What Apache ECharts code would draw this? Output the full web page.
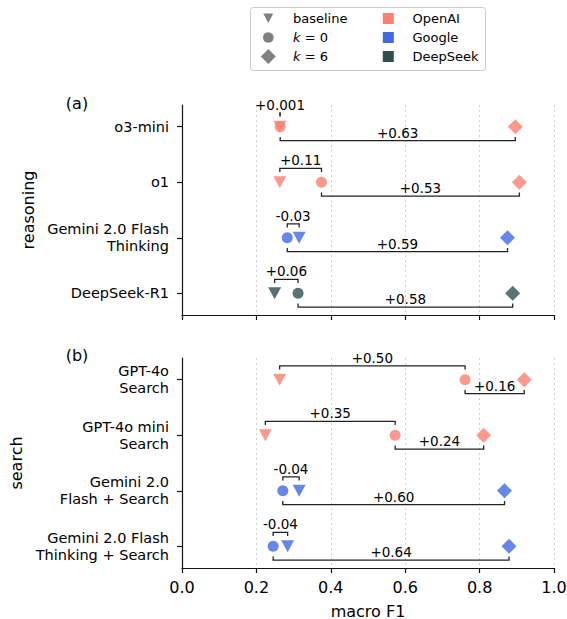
<!DOCTYPE html>
<html><head><meta charset="utf-8">
<script src="https://cdn.jsdelivr.net/npm/echarts@6/dist/echarts.min.js"></script>
<style>html,body{margin:0;padding:0;background:#fff}#chart{width:567px;height:619px}</style>
</head><body><div id="chart"></div>
<script>
// ---- data ----
const reasoningModels = ['o3-mini', 'o1', 'Gemini 2.0 Flash\nThinking', 'DeepSeek-R1'];
const reasoningCompany = ['OpenAI', 'OpenAI', 'Google', 'DeepSeek'];
const reasoningBaseline = [0.263, 0.263, 0.315, 0.249];
const reasoningK0 = [0.264, 0.375, 0.283, 0.312];
const reasoningK6 = [0.896, 0.907, 0.875, 0.889];
const reasoningGainK0 = ['+0.001', '+0.11', '-0.03', '+0.06'];
const reasoningGainK6 = ['+0.63', '+0.53', '+0.59', '+0.58'];

const searchModels = ['GPT-4o\nSearch', 'GPT-4o mini\nSearch', 'Gemini 2.0\nFlash + Search', 'Gemini 2.0 Flash\nThinking + Search'];
const searchCompany = ['OpenAI', 'OpenAI', 'Google', 'Google'];
const searchBaseline = [0.2625, 0.224, 0.315, 0.284];
const searchK0 = [0.761, 0.573, 0.271, 0.245];
const searchK6 = [0.920, 0.811, 0.867, 0.879];
const searchGainK0 = ['+0.50', '+0.35', '-0.04', '-0.04'];
const searchGainK6 = ['+0.16', '+0.24', '+0.60', '+0.64'];

const xTicks = [0.0, 0.2, 0.4, 0.6, 0.8, 1.0];
const legendMarkers = ['baseline', 'k = 0', 'k = 6'];
const legendCompanies = ['OpenAI', 'Google', 'DeepSeek'];

// ---- styles ----
const FONT = 'DejaVu Sans';
const companyColors = { OpenAI: '#FA8072', Google: '#4169E1', DeepSeek: '#2F4F4F' };
const AX = '#111';

const chart = echarts.init(document.getElementById('chart'), null, { renderer: 'svg' });

function xAxisCfg(gridIndex, showLabels) {
  return {
    type: 'value', gridIndex, min: 0, max: 1, interval: 0.2,
    axisLine: { show: true, onZero: false, lineStyle: { color: AX, width: 1.2 } },
    axisTick: { show: true, length: 5, lineStyle: { color: AX, width: 1.2 } },
    axisLabel: { show: showLabels, margin: 11, fontFamily: FONT, fontSize: 16, color: '#000',
      formatter: v => v.toFixed(1) },
    splitLine: { show: true, lineStyle: { color: '#cfcfcf', type: [2, 3], width: 1 } },
    name: showLabels ? 'macro F1' : '', nameLocation: 'middle', nameGap: 35,
    nameTextStyle: { fontFamily: FONT, fontSize: 16, color: '#000' }
  };
}
function yAxisCfg(gridIndex, models, name, nameGap) {
  return {
    type: 'value', gridIndex, inverse: true, min: -0.39, max: 3.39,
    axisLine: { show: true, onZero: false, lineStyle: { color: AX, width: 1.2 } },
    axisTick: { show: true, length: 5, customValues: [0, 1, 2, 3], lineStyle: { color: AX, width: 1.2 } },
    axisLabel: { customValues: [0, 1, 2, 3], margin: 13, fontFamily: FONT, fontSize: 14.5, color: '#000',
      lineHeight: 17, align: 'right', formatter: v => models[Math.round(v)] },
    splitLine: { show: false },
    name, nameLocation: 'middle', nameRotate: 90, nameGap,
    nameTextStyle: { fontFamily: FONT, fontSize: 16, color: '#000' }
  };
}

function scatter(gi, name, xs, companies, symbol, size, rotate) {
  return {
    type: 'scatter', name, xAxisIndex: gi, yAxisIndex: gi, symbol, symbolSize: size,
    symbolRotate: rotate || 0, z: 3,
    data: xs.map((x, i) => ({ value: [x, i], itemStyle: { color: companyColors[companies[i]], opacity: 0.8 } })),
    emphasis: { disabled: true }
  };
}

function bracket(gi, from, to, side, labels) {
  return {
    type: 'custom', xAxisIndex: gi, yAxisIndex: gi, z: 4,
    encode: { x: [0, 1], y: 2 },
    data: from.map((f, i) => [f, to[i], i, side]),
    renderItem: (params, api) => {
      const x1 = api.value(0), x2 = api.value(1), row = api.value(2), sd = api.value(3);
      const yv = row + sd * 0.25;
      const p1 = api.coord([Math.min(x1, x2), yv]);
      const p2 = api.coord([Math.max(x1, x2), yv]);
      const t = sd < 0 ? 3.6 : -3.6;
      return {
        type: 'group',
        children: [
          { type: 'polyline', shape: { points: [[p1[0], p1[1] + t], [p1[0], p1[1]], [p2[0], p2[1]], [p2[0], p2[1] + t]] },
            style: { stroke: '#222', lineWidth: 1.3, fill: null } },
          { type: 'text', style: { text: labels[params.dataIndex], x: (p1[0] + p2[0]) / 2, y: p1[1] - 8,
            align: 'center', verticalAlign: 'middle', fontFamily: FONT, fontSize: 13.5, fill: '#000' } }
        ]
      };
    }
  };
}

function panelSeries(gi, companies, base, k0, k6, g0, g6) {
  return [
    scatter(gi, 'baseline', base, companies, 'triangle', [13, 12], 180),
    scatter(gi, 'k = 0', k0, companies, 'circle', 11),
    scatter(gi, 'k = 6', k6, companies, 'diamond', [15, 15]),
    bracket(gi, base, k0, -1, g0),
    bracket(gi, k0, k6, 1, g6)
  ];
}

// legend drawn as graphics
const legendG = [
  { type: 'rect', shape: { x: 250.5, y: 7.5, width: 235, height: 63, r: 3 }, style: { fill: '#fff', stroke: '#cccccc', lineWidth: 1 } }
];
const rowsY = [18.5, 37.5, 56.5];
legendG.push({ type: 'polygon', shape: { points: [[263.3, 13.5], [273.3, 13.5], [268.3, 23]] }, style: { fill: '#808080' } });
legendG.push({ type: 'circle', shape: { cx: 268.3, cy: rowsY[1], r: 5.3 }, style: { fill: '#808080' } });
legendG.push({ type: 'polygon', shape: { points: [[268.3, 49], [275.8, 56.5], [268.3, 64], [260.8, 56.5]] }, style: { fill: '#808080' } });
legendMarkers.forEach((t, i) => {
  const txt = t.startsWith('k') ? '{i|k}' + t.slice(1) : t;
  legendG.push({ type: 'text', style: { text: txt, x: 293, y: rowsY[i], verticalAlign: 'middle', fontFamily: FONT, fontSize: 13, fill: '#000',
    rich: { i: { fontStyle: 'italic', fontFamily: FONT, fontSize: 13 } } } });
});
legendCompanies.forEach((c, i) => {
  legendG.push({ type: 'rect', shape: { x: 382.8, y: rowsY[i] - 5.5, width: 11, height: 11 }, style: { fill: companyColors[c] } });
  legendG.push({ type: 'text', style: { text: c, x: 412.5, y: rowsY[i], verticalAlign: 'middle', fontFamily: FONT, fontSize: 13, fill: '#000' } });
});
legendG.push({ type: 'text', style: { text: '(a)', x: 77, y: 103, align: 'center', verticalAlign: 'middle', fontFamily: FONT, fontSize: 16, fill: '#000' } });
legendG.push({ type: 'text', style: { text: '(b)', x: 77, y: 355, align: 'center', verticalAlign: 'middle', fontFamily: FONT, fontSize: 16, fill: '#000' } });

chart.setOption({
  animation: false,
  backgroundColor: '#fff',
  textStyle: { fontFamily: FONT },
  grid: [
    { left: 182, top: 105, width: 372, height: 210, containLabel: false, outerBoundsMode: 'none' },
    { left: 182, top: 358, width: 372, height: 210, containLabel: false, outerBoundsMode: 'none' }
  ],
  xAxis: [xAxisCfg(0, false), xAxisCfg(1, true)],
  yAxis: [yAxisCfg(0, reasoningModels, 'reasoning', 146), yAxisCfg(1, searchModels, 'search', 158)],
  series: [
    ...panelSeries(0, reasoningCompany, reasoningBaseline, reasoningK0, reasoningK6, reasoningGainK0, reasoningGainK6),
    ...panelSeries(1, searchCompany, searchBaseline, searchK0, searchK6, searchGainK0, searchGainK6)
  ],
  graphic: legendG
});
</script></body></html>
